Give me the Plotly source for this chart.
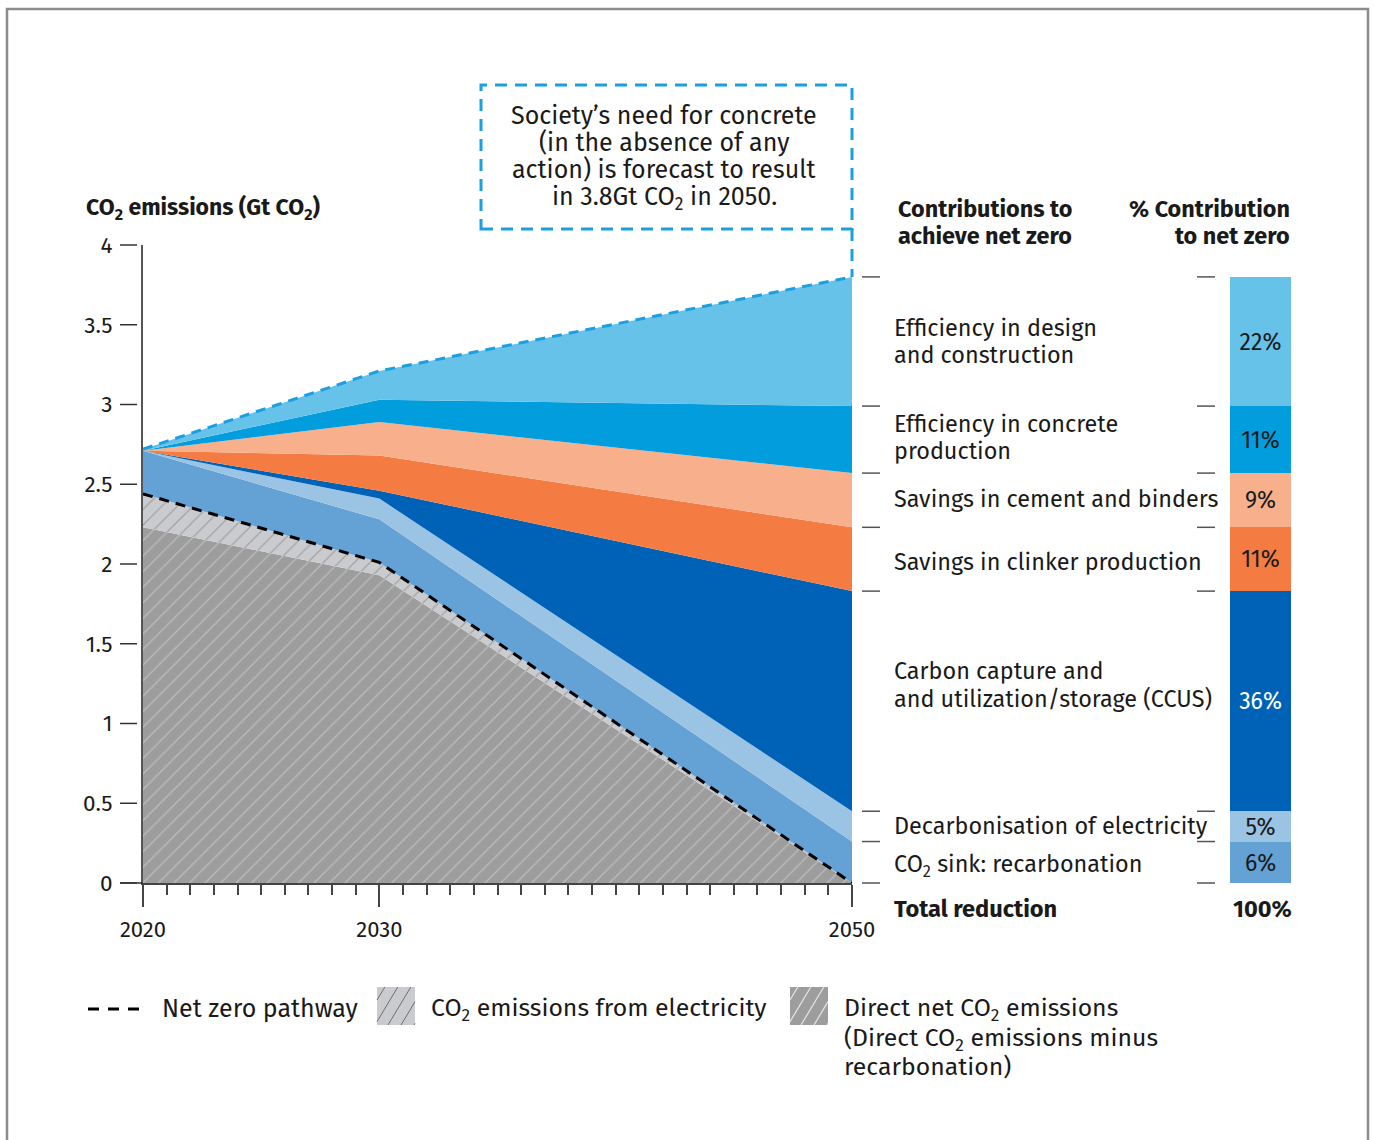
import plotly.graph_objects as go

# ---------------- data ----------------
years = [2020, 2030, 2050]
direct_net = [2.23, 1.93, 0.00]          # Direct net CO2 emissions
electricity_emis = [0.21, 0.08, 0.00]    # CO2 emissions from electricity
recarbonation = [0.27, 0.27, 0.26]
decarb_electricity = [0.00, 0.13, 0.19]
ccus = [0.00, 0.05, 1.38]
clinker = [0.00, 0.22, 0.40]
cement_binders = [0.00, 0.21, 0.34]
concrete_production = [0.00, 0.14, 0.42]
design_construction = [0.01, 0.18, 0.81]

pct_recarbonation = 6
pct_decarb_electricity = 5
pct_ccus = 36
pct_clinker = 11
pct_cement_binders = 9
pct_concrete_production = 11
pct_design_construction = 22
pct_total = 100

y_tickvals = [0, 0.5, 1, 1.5, 2, 2.5, 3, 3.5, 4]
y_ticktext = ["0", "0.5", "1", "1.5", "2", "2.5", "3", "3.5", "4"]
x_tickvals = [2020, 2030, 2050]
x_minor = [y for y in range(2021, 2050) if y != 2030]

# ---------------- geometry helpers (layout only) ----------------
FW, FH = 1375, 1140
L, R, T, B = 143, 1291, 245, 883
YMAX = 4.0


def px(x):
    return (x - L) / (R - L)


def py(y):
    return (B - y) / (B - T)


FONT = "Fira Sans, Noto Sans, Open Sans, sans-serif"
TXT = "#1a1a1a"
LBL = 23.4

fig = go.Figure()

# stacked area layers (bottom -> top)
layers = [
    ("Direct net CO2 emissions", direct_net, "#9d9d9d", dict(shape="/", bgcolor="#9d9d9d", fgcolor="#dadada", size=11, solidity=0.12)),
    ("CO2 emissions from electricity", electricity_emis, "#cacbce", dict(shape="/", bgcolor="#cacbce", fgcolor="#6a6a6a", size=11, solidity=0.1)),
    ("CO2 sink: recarbonation", recarbonation, "#64a2d5", None),
    ("Decarbonisation of electricity", decarb_electricity, "#9ac3e4", None),
    ("CCUS", ccus, "#0062b6", None),
    ("Savings in clinker production", clinker, "#f47b41", None),
    ("Savings in cement and binders", cement_binders, "#f8af8b", None),
    ("Efficiency in concrete production", concrete_production, "#019ddc", None),
    ("Efficiency in design and construction", design_construction, "#67c2ea", None),
]

cum = [0.0] * len(years)
cum_list = []
for i, (name, vals, color, pat) in enumerate(layers):
    cum = [c + v for c, v in zip(cum, vals)]
    cum_list.append(cum)
    kw = dict(x=years, y=cum, mode="lines", line=dict(width=0, color=color),
              fill="tozeroy" if i == 0 else "tonexty", fillcolor=color,
              name=name, showlegend=False, hoverinfo="skip")
    if pat:
        kw["fillpattern"] = pat
    fig.add_trace(go.Scatter(**kw))

net_zero = cum_list[1]
baseline = cum_list[-1]

fig.add_trace(go.Scatter(x=years, y=net_zero, mode="lines",
                         line=dict(color="black", width=3, dash="10px,7px"),
                         showlegend=False, hoverinfo="skip"))
fig.add_trace(go.Scatter(x=years, y=baseline, mode="lines",
                         line=dict(color="#1b9fe0", width=3, dash="10px,7px"),
                         showlegend=False, hoverinfo="skip"))

# contribution bar (2050 values)
bar_items = [
    (recarbonation, pct_recarbonation, "#64a2d5", TXT),
    (decarb_electricity, pct_decarb_electricity, "#9ac3e4", TXT),
    (ccus, pct_ccus, "#0062b6", "white"),
    (clinker, pct_clinker, "#f47b41", TXT),
    (cement_binders, pct_cement_binders, "#f8af8b", TXT),
    (concrete_production, pct_concrete_production, "#019ddc", TXT),
    (design_construction, pct_design_construction, "#67c2ea", TXT),
]
for vals, pct, color, tc in bar_items:
    fig.add_trace(go.Bar(x=[0], y=[vals[-1]], width=1, marker=dict(color=color, line=dict(width=0)),
                         text=[f"{pct}%"], textposition="inside", insidetextanchor="middle",
                         textfont=dict(family=FONT, size=23, color=tc), constraintext="none",
                         xaxis="x2", yaxis="y", showlegend=False, hoverinfo="skip"))

shapes = []
annotations = []

# label-column tick dashes at 2050 boundaries
bounds = [0.0]
for vals, *_ in bar_items:
    bounds.append(bounds[-1] + vals[-1])
for b in bounds:
    for x0, x1 in [(862, 880), (1197, 1215)]:
        shapes.append(dict(type="line", xref="paper", yref="paper", x0=px(x0), x1=px(x1),
                           y0=b / YMAX, y1=b / YMAX, line=dict(color="#555555", width=1.5)))

# y-axis tick dashes
for v in y_tickvals:
    shapes.append(dict(type="line", xref="paper", yref="paper", x0=px(120), x1=px(137),
                       y0=v / YMAX, y1=v / YMAX, line=dict(color="#333333", width=1.5)))
shapes.append(dict(type="line", xref="paper", yref="paper", x0=px(120), x1=px(143),
                   y0=0, y1=0, line=dict(color="#333333", width=1.5)))

# callout dashed box
box_style = dict(color="#1b9fe0", width=3, dash="12px,8px")
shapes.append(dict(type="rect", xref="paper", yref="paper", x0=px(481), x1=px(852),
                   y0=py(229), y1=py(85), line=box_style))
shapes.append(dict(type="line", xref="paper", yref="paper", x0=px(852), x1=px(852),
                   y0=py(229), y1=baseline[-1] / YMAX, line=box_style))

# outer frame
shapes.append(dict(type="rect", xref="paper", yref="paper", x0=px(7), x1=px(1368),
                   y0=py(1160), y1=py(9), line=dict(color="#8c8c8c", width=2.5)))


def hatch(x0, y0, x1, y1, spacing, t, color, width):
    w, h = x1 - x0, y1 - y0
    c = -h * t + spacing * 0.6
    while c < w:
        vmin = max(0.0, -c / t)
        vmax = min(h, (w - c) / t)
        if vmax > vmin:
            ua, ub = c + vmin * t, c + vmax * t
            shapes.append(dict(type="line", xref="paper", yref="paper",
                               x0=px(x0 + ua), y0=py(y1 - vmin), x1=px(x0 + ub), y1=py(y1 - vmax),
                               line=dict(color=color, width=width)))
        c += spacing


# legend swatches
shapes.append(dict(type="line", xref="paper", yref="paper", x0=px(88), x1=px(143),
                   y0=py(1009), y1=py(1009), line=dict(color="black", width=3, dash="11px,9px")))
shapes.append(dict(type="rect", xref="paper", yref="paper", x0=px(377), x1=px(415),
                   y0=py(1025), y1=py(987), fillcolor="#cacbce", line=dict(width=0)))
hatch(377, 987, 415, 1025, 13, 0.6, "#6e6e6e", 1)
shapes.append(dict(type="rect", xref="paper", yref="paper", x0=px(790), x1=px(828),
                   y0=py(1025), y1=py(987), fillcolor="#9d9d9d", line=dict(width=0)))
hatch(790, 987, 828, 1025, 13, 0.6, "#e6e6e6", 1.2)


def ann(text, x, y, size=LBL, xanchor="left", bold=False, color=TXT):
    if bold:
        text = f"<b>{text}</b>"
    annotations.append(dict(text=text, x=px(x), y=py(y), xref="paper", yref="paper",
                            xanchor=xanchor, yanchor="middle", showarrow=False,
                            font=dict(family=FONT, size=size, color=color)))


def ann_lines(lines, x, ys, **kw):
    for t, y in zip(lines, ys):
        ann(t, x, y, **kw)


ann("CO<sub>2</sub> emissions (Gt CO<sub>2</sub>)", 84, 209, size=23, bold=True)
ann_lines(["Society’s need for concrete", "(in the absence of any", "action) is forecast to result",
           "in 3.8Gt CO<sub>2</sub> in 2050."], 664, [116, 143, 170, 199], size=25, xanchor="center")
ann_lines(["Contributions to", "achieve net zero"], 896, [209, 236], size=23.4, bold=True)
ann_lines(["% Contribution", "to net zero"], 1292, [209, 236], size=23.4, bold=True, xanchor="right")

ann_lines(["Efficiency in design", "and construction"], 892, [328, 355])
ann_lines(["Efficiency in concrete", "production"], 892, [424, 451])
ann("Savings in cement and binders", 892, 499)
ann("Savings in clinker production", 892, 562)
ann_lines(["Carbon capture and", "and utilization/storage (CCUS)"], 892, [671, 699])
ann("Decarbonisation of electricity", 892, 826)
ann("CO<sub>2</sub> sink: recarbonation", 892, 865)
ann("Total reduction", 892, 909, size=23.6, bold=True)
ann(f"{pct_total}%", 1294, 909, size=23.6, bold=True, xanchor="right")

ann("Net zero pathway", 160, 1009, size=25)
ann("CO<sub>2</sub> emissions from electricity", 429, 1009, size=24.8)
ann_lines(["Direct net CO<sub>2</sub> emissions", "(Direct CO<sub>2</sub> emissions minus", "recarbonation)"],
          842, [1009, 1039, 1067], size=24.8)

fig.update_layout(
    width=FW, height=FH,
    margin=dict(l=L, r=FW - R, t=T, b=FH - B, pad=0),
    paper_bgcolor="white", plot_bgcolor="white",
    barmode="stack", bargap=0,
    showlegend=False,
    font=dict(family=FONT, color=TXT),
    xaxis=dict(domain=[0, px(852)], range=[2020, 2050], showgrid=False, zeroline=False,
               showline=True, linecolor="#444444", linewidth=2,
               tickmode="array", tickvals=x_tickvals, ticks="outside", ticklen=22, tickwidth=2,
               tickcolor="#444444", ticklabelstandoff=4,
               tickfont=dict(family=FONT, size=22, color=TXT),
               minor=dict(tickmode="array", tickvals=x_minor, ticks="outside", ticklen=10,
                          tickwidth=1.5, tickcolor="#444444", showgrid=False)),
    yaxis=dict(range=[0, YMAX], showgrid=False, zeroline=False, showline=True,
               linecolor="#555555", linewidth=2, tickmode="array", tickvals=y_tickvals,
               ticktext=y_ticktext, ticks="", ticklabelstandoff=24,
               tickfont=dict(family=FONT, size=22.5, color=TXT)),
    xaxis2=dict(domain=[px(1230), 1.0], range=[-0.5, 0.5], visible=False, anchor="y"),
    shapes=shapes,
    annotations=annotations,
)

fig.write_html("out.html")
